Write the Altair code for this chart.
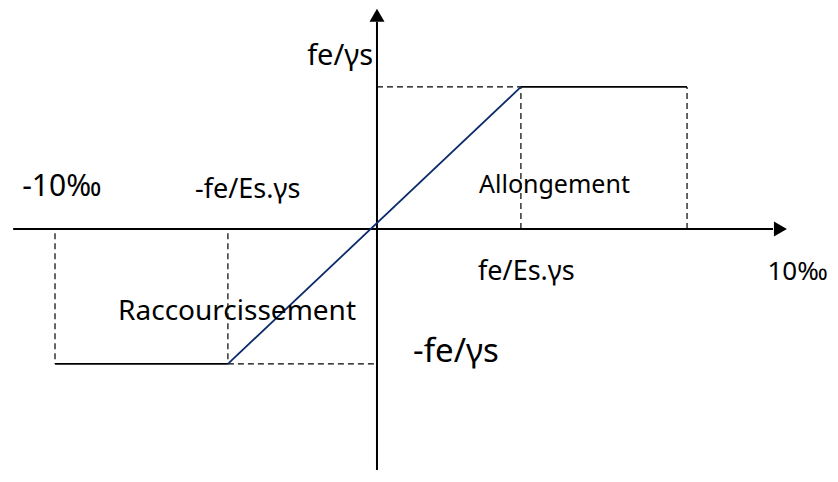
import altair as alt
import pandas as pd

# Units: x = strain (‰), y = stress in units of fe/γs
# axes (drawn as rules with arrowheads)
axis_x1 = [-11.3, 0.0]
axis_x2 = [12.3, 0.0]
axis_y1 = [0.0, 1.46]
axis_y2 = [0.0, -1.7]

# solid plateaus
plateau_x1 = [4.47, -10.0]
plateau_x2 = [9.63, -4.63]
plateau_y = [1.0, -0.95]

# elastic branch
elastic_x = [-4.63, 4.47]
elastic_y = [-0.95, 1.0]

# dashed guides
dash_x1 = [0.0, 4.47, 9.63, -4.63, -10.0, -4.63]
dash_x2 = [4.47, 4.47, 9.63, 0.0, -10.0, -4.63]
dash_y1 = [1.0, 0.0, 0.0, -0.95, -0.03, -0.03]
dash_y2 = [1.0, 1.0, 1.0, -0.95, -0.95, -0.95]

# arrowheads
arrow_x = [0.0, 12.53]
arrow_y = [1.505, 0.0]
arrow_shape = ["triangle-up", "triangle-right"]

# labels
label_text = ["fe/γs", "-10‰", "-fe/Es.γs", "Allongement", "fe/Es.γs",
              "10‰", "-fe/γs", "Raccourcissement"]
label_x = [-0.12, -11.02, -5.65, 3.17, 3.14, 14.0, 1.12, -8.04]
label_y = [1.155, 0.232, 0.218, 0.254, -0.359, -0.359, -0.937, -0.641]
label_align = ["right", "left", "left", "left", "left", "right", "left", "left"]
label_size = [29, 30, 27, 25, 27, 26, 33, 28]

XD = [-11.46, 14.07]
YD = [-1.697, 1.556]
xs = alt.Scale(domain=XD, nice=False, zero=False)
ys = alt.Scale(domain=YD, nice=False, zero=False)

axes_df = pd.DataFrame({"x": [axis_x1[0], axis_y1[0]], "x2": [axis_x2[0], axis_y2[0]],
                        "y": [axis_x1[1], axis_y1[1]], "y2": [axis_x2[1], axis_y2[1]]})
plat_df = pd.DataFrame({"x": plateau_x1, "x2": plateau_x2, "y": plateau_y, "y2": plateau_y})
el_df = pd.DataFrame({"x": elastic_x, "y": elastic_y})
dash_df = pd.DataFrame({"x": dash_x1, "x2": dash_x2, "y": dash_y1, "y2": dash_y2})
arr_df = pd.DataFrame({"x": arrow_x, "y": arrow_y, "shape": arrow_shape})
lab_df = pd.DataFrame({"t": label_text, "x": label_x, "y": label_y,
                       "align": label_align, "size": label_size})

X = lambda f="x": alt.X(f, type="quantitative", scale=xs, axis=None)
Y = lambda f="y": alt.Y(f, type="quantitative", scale=ys, axis=None)

axes = alt.Chart(axes_df).mark_rule(color="black", strokeWidth=2).encode(
    x=X(), x2="x2", y=Y(), y2="y2")
dashes = alt.Chart(dash_df).mark_rule(color="black", strokeWidth=1.2, strokeDash=[6, 4]).encode(
    x=X(), x2="x2", y=Y(), y2="y2")
plats = alt.Chart(plat_df).mark_rule(color="black", strokeWidth=1.8).encode(
    x=X(), x2="x2", y=Y(), y2="y2")
elastic = alt.Chart(el_df).mark_line(color="#0b2a6b", strokeWidth=1.8).encode(x=X(), y=Y())
arrows = alt.Chart(arr_df).mark_point(filled=True, color="black", size=225, opacity=1).encode(
    x=X(), y=Y(), shape=alt.Shape("shape:N", scale=None, legend=None))

layers = [axes, dashes, plats, elastic, arrows]
for i in range(len(label_text)):
    sub = lab_df.iloc[[i]]
    layers.append(
        alt.Chart(sub).mark_text(align=label_align[i], baseline="alphabetic",
                                 font="Comic Sans MS, Noto Sans", fontSize=label_size[i],
                                 color="black").encode(x=X(), y=Y(), text="t:N")
    )

chart = alt.layer(*layers).properties(
    width=822, height=462, padding=0,
    autosize=alt.AutoSizeParams(type="none")
).configure_view(strokeWidth=0)
chart.save("out.html", embed_options={"renderer": "svg", "actions": False})
